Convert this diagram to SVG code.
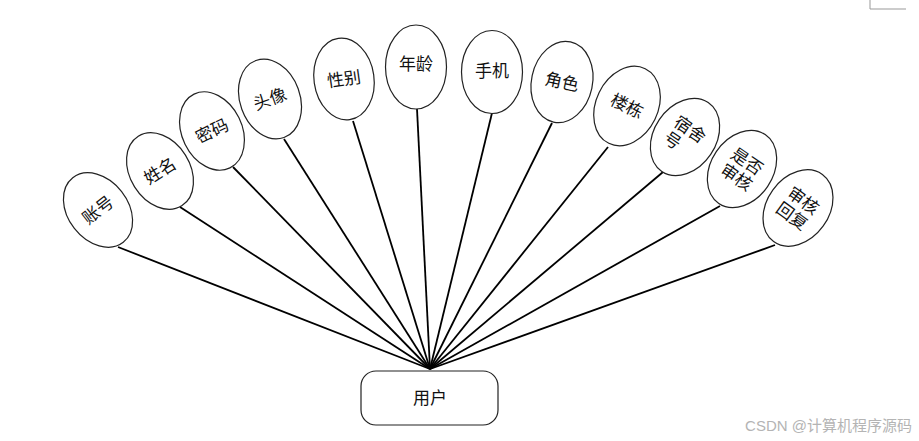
<svg xmlns="http://www.w3.org/2000/svg" width="919" height="441" viewBox="0 0 919 441">
<style>
.e{fill:#fff;stroke:#222;stroke-width:1.2}
.t{font-family:"Noto Sans CJK SC","Noto Sans",sans-serif;font-size:17px;fill:#111}
.c{stroke:#000;stroke-width:1.8;fill:none}
</style>
<rect width="919" height="441" fill="#fff"/>
<polyline points="870,0 870,9 906,9" fill="none" stroke="#999" stroke-width="1"/>
<g id="connectors">
<line class="c" x1="118" y1="247" x2="430" y2="369"/>
<line class="c" x1="180" y1="207" x2="430" y2="369"/>
<line class="c" x1="233" y1="167" x2="430" y2="369"/>
<line class="c" x1="284" y1="139" x2="430" y2="369"/>
<line class="c" x1="353" y1="121" x2="430" y2="369"/>
<line class="c" x1="417" y1="109" x2="430" y2="369"/>
<line class="c" x1="492" y1="113" x2="430" y2="369"/>
<line class="c" x1="552" y1="123" x2="430" y2="369"/>
<line class="c" x1="608" y1="147" x2="430" y2="369"/>
<line class="c" x1="663" y1="172" x2="430" y2="369"/>
<line class="c" x1="720" y1="206" x2="430" y2="369"/>
<line class="c" x1="775" y1="245" x2="430" y2="369"/>
</g>
<g id="n1" transform="translate(98,210) rotate(-38)"><ellipse class="e" rx="30" ry="41"/><text class="t" x="0" y="6" text-anchor="middle">账号</text></g>
<g id="n2" transform="translate(160,171) rotate(-32)"><ellipse class="e" rx="30" ry="41"/><text class="t" x="0" y="6" text-anchor="middle">姓名</text></g>
<g id="n3" transform="translate(212,131) rotate(-26)"><ellipse class="e" rx="30" ry="41"/><text class="t" x="0" y="6" text-anchor="middle">密码</text></g>
<g id="n4" transform="translate(270,99) rotate(-20)"><ellipse class="e" rx="30" ry="41"/><text class="t" x="0" y="6" text-anchor="middle">头像</text></g>
<g id="n5" transform="translate(344,79) rotate(-8)"><ellipse class="e" rx="30" ry="41"/><text class="t" x="0" y="6" text-anchor="middle">性别</text></g>
<g id="n6" transform="translate(416,67)"><ellipse class="e" rx="30.5" ry="42"/><text class="t" x="0" y="3" text-anchor="middle">年龄</text></g>
<g id="n7" transform="translate(492,72)"><ellipse class="e" rx="30.5" ry="41.5"/><text class="t" x="0" y="5" text-anchor="middle">手机</text></g>
<g id="n8" transform="translate(562,82) rotate(12)"><ellipse class="e" rx="30.5" ry="41"/><text class="t" x="0" y="6" text-anchor="middle">角色</text></g>
<g id="n9" transform="translate(627,106) rotate(26)"><ellipse class="e" rx="31" ry="41.5"/><text class="t" x="0" y="6" text-anchor="middle">楼栋</text></g>
<g id="n10" transform="translate(685,137) rotate(34)"><ellipse class="e" rx="31" ry="41.5"/><text class="t" x="-17" y="-3">宿舍</text><text class="t" x="-17" y="16">号</text></g>
<g id="n11" transform="translate(742,169) rotate(34)"><ellipse class="e" rx="31" ry="41.5"/><text class="t" x="-17" y="-3">是否</text><text class="t" x="-17" y="16">审核</text></g>
<g id="n12" transform="translate(798,208) rotate(36)"><ellipse class="e" rx="31" ry="41.5"/><text class="t" x="-17" y="-3">审核</text><text class="t" x="-17" y="16">回复</text></g>
<g id="user"><rect x="361" y="371" width="137" height="54" rx="15" ry="15" fill="#fff" stroke="#222" stroke-width="1.2"/><text class="t" x="430" y="404" text-anchor="middle" font-size="18">用户</text></g>
<text x="912" y="431" text-anchor="end" font-family="'Liberation Sans','Noto Sans CJK SC',sans-serif" font-size="15" fill="#b4b4b4">CSDN @计算机程序源码</text>
</svg>
